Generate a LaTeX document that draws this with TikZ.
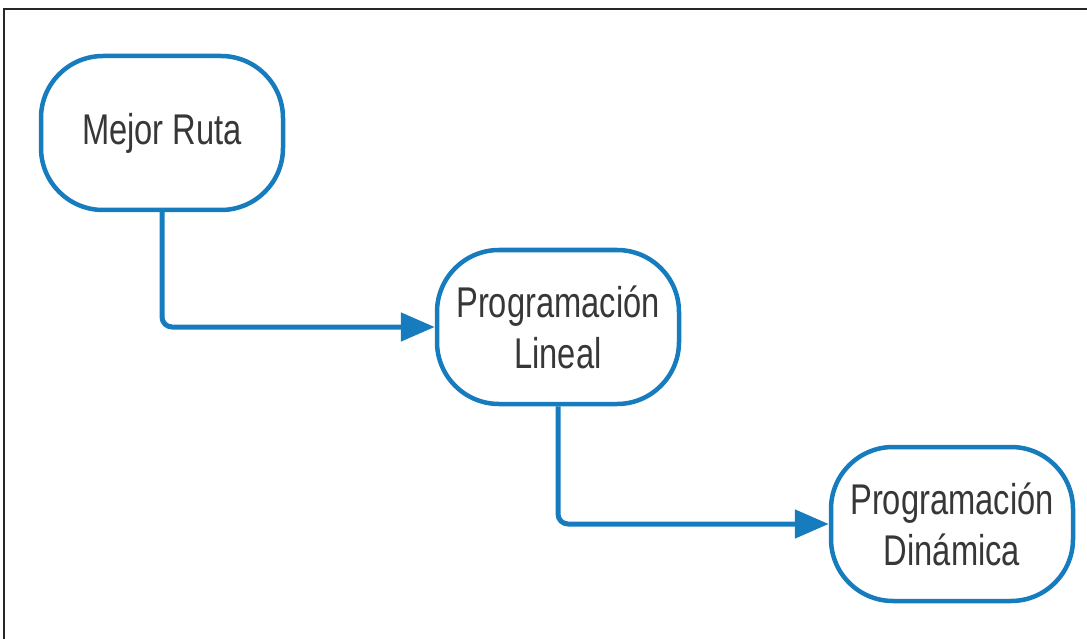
\documentclass[tikz,border=0pt]{standalone}
\usepackage{fontspec}
\newfontfamily\nodefont[FakeStretch=0.76]{Liberation Sans}
\usetikzlibrary{arrows.meta}
\definecolor{flowblue}{RGB}{22,124,190}
\definecolor{txtgray}{RGB}{55,55,55}
\tikzset{
  flownode/.style={draw=flowblue, line width=4.5pt, fill=white, rounded corners=62pt,
    minimum width=242pt, minimum height=154pt, inner sep=0pt, align=center,
    font=\nodefont\fontsize{43pt}{51pt}\selectfont, text=txtgray},
  flowarrow/.style={draw=flowblue, line width=5pt, rounded corners=10pt,
    -{Triangle[length=34pt,width=28pt]}}
}
\begin{document}
\begin{tikzpicture}[x=1pt,y=-1pt]
\useasboundingbox (0,0) rectangle (1087,639);
\draw[line width=2pt, black!85] (4,650) -- (4,9) -- (1095,9);
\node[flownode] (a) at (162,133) {Mejor Ruta};
\node[flownode] (b) at (558,327) {Programación\\Lineal};
\node[flownode] (c) at (952,524) {Programación\\Dinámica};
\draw[flowarrow] (a.south) |- (b.west);
\draw[flowarrow] (b.south) |- (c.west);
\end{tikzpicture}
\end{document}
